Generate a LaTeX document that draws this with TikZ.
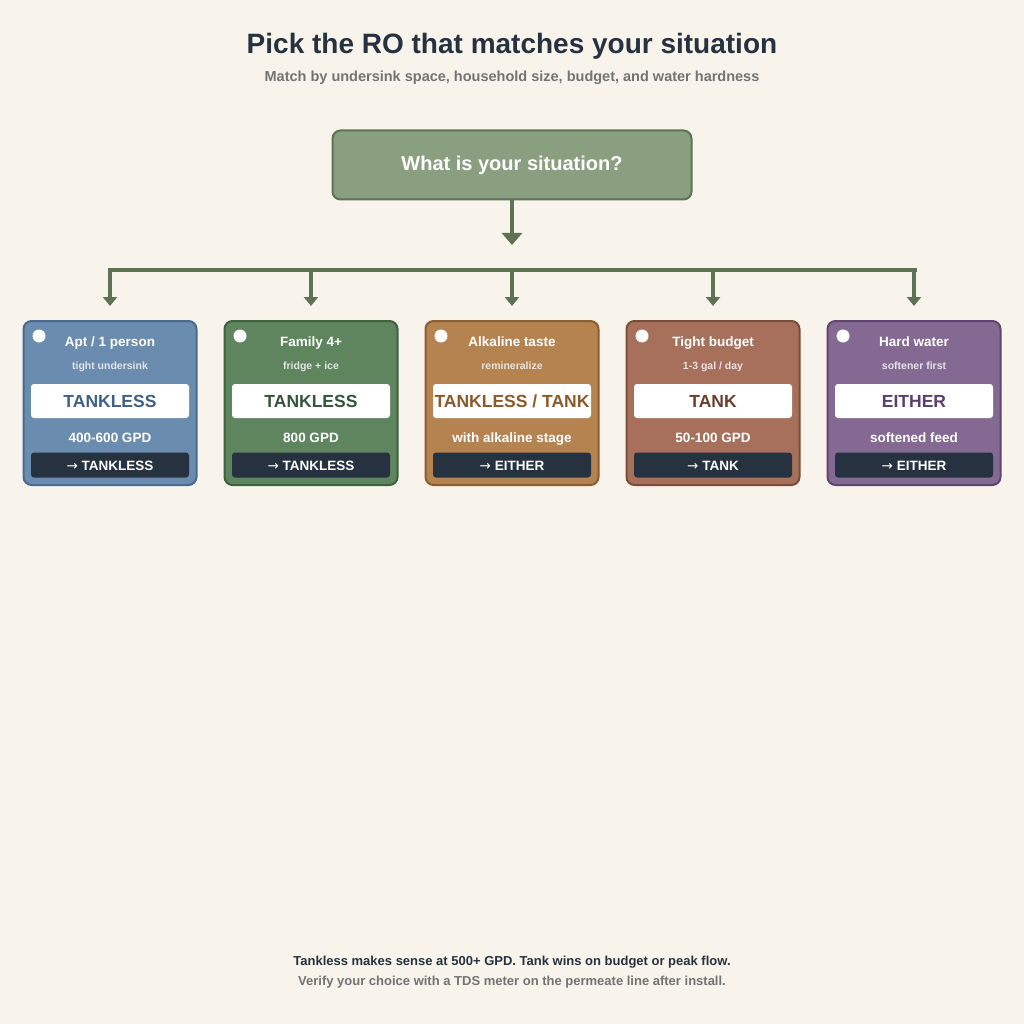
\documentclass[tikz,border=0pt]{standalone}
\usepackage{fontspec}
\setmainfont{Liberation Sans}
\newfontfamily\dv{DejaVu Sans}
\usetikzlibrary{arrows.meta}
\definecolor{bg}{HTML}{F8F4EC}
\definecolor{dk}{HTML}{263240}
\definecolor{ln}{HTML}{5E7354}
\definecolor{topf}{HTML}{8A9E80}
\definecolor{cAf}{HTML}{6A8CAF}\definecolor{cAd}{HTML}{4A6A8F}\definecolor{cAt}{HTML}{3F5F86}
\definecolor{cBf}{HTML}{5E855E}\definecolor{cBd}{HTML}{3E613E}\definecolor{cBt}{HTML}{35553A}
\definecolor{cCf}{HTML}{B5834F}\definecolor{cCd}{HTML}{8A5E30}\definecolor{cCt}{HTML}{8A5A2A}
\definecolor{cDf}{HTML}{A6705A}\definecolor{cDd}{HTML}{7A4D3A}\definecolor{cDt}{HTML}{6B3F2E}
\definecolor{cEf}{HTML}{846A93}\definecolor{cEd}{HTML}{5E4570}\definecolor{cEt}{HTML}{5A3F6E}
\tikzset{
 card/.style={draw=#1d,fill=#1f,line width=2pt,rounded corners=8pt,minimum width=173pt,minimum height=164pt},
 wbox/.style={fill=white,rounded corners=3pt,minimum width=158pt,minimum height=34pt,text=#1t,font=\bfseries\fontsize{17.5}{17.5}\selectfont,inner sep=0pt},
 dbar/.style={fill=dk,rounded corners=3pt,minimum width=158pt,minimum height=25pt,text=white,font=\bfseries\fontsize{13.5}{13.5}\selectfont,text height=10pt,text depth=0pt},
 ttl/.style={text=white,font=\bfseries\fontsize{13.5}{13.5}\selectfont,text height=10pt,text depth=3pt},
 sub/.style={text=white!90!black,font=\bfseries\fontsize{10.5}{10.5}\selectfont,text height=8pt,text depth=2pt},
 conn/.style={draw=ln,line width=4pt},
 arr/.style={draw=ln,line width=4pt,-{Triangle[length=12pt,width=20pt]}},
 sarr/.style={draw=ln,line width=3.5pt,-{Triangle[length=9pt,width=14pt]}},
}
\newcommand{\card}[8]{%
 \node[card=#2] (c#1) at (#3,403) {};
 \fill[white] (#3-71,336) circle (6.5pt);
 \node[ttl] (t#1) at (#3,343) {#4};
 \node[sub] (s#1) at (#3,366) {#5};
 \node[wbox=#2] (w#1) at (#3,401) {#6};
 \node[ttl] (g#1) at (#3,439) {#7};
 \node[dbar] (d#1) at (#3,465) {{\dv\mdseries →} #8};
}
\begin{document}
\begin{tikzpicture}[x=1pt,y=-1pt]
\fill[bg] (0,0) rectangle (1024,1024);
\useasboundingbox (0,0) rectangle (1024,1024);
\node[text=dk,font=\bfseries\fontsize{28}{28}\selectfont] (title) at (512,46) {Pick the RO that matches your situation};
\node[text=black!55,font=\bfseries\fontsize{14.5}{14.5}\selectfont] (subt) at (512,78) {Match by undersink space, household size, budget, and water hardness};
\node[draw=ln,fill=topf,line width=2pt,rounded corners=8pt,minimum width=359pt,minimum height=69pt,text=white,font=\bfseries\fontsize{20}{20}\selectfont] (q) at (512,165) {What is your situation?};
\coordinate (qa) at (512,245);
\draw[arr] (q.south) -- (qa);
\coordinate (bl) at (108,270); \coordinate (br) at (917,270);
\draw[conn] (bl) -- (br);
\card{1}{cA}{110}{Apt / 1 person}{tight undersink}{TANKLESS}{400-600 GPD}{TANKLESS}
\card{2}{cB}{311}{Family 4+}{fridge + ice}{TANKLESS}{800 GPD}{TANKLESS}
\card{3}{cC}{512}{Alkaline taste}{remineralize}{TANKLESS / TANK}{with alkaline stage}{EITHER}
\card{4}{cD}{713}{Tight budget}{1-3 gal / day}{TANK}{50-100 GPD}{TANK}
\card{5}{cE}{914}{Hard water}{softener first}{EITHER}{softened feed}{EITHER}
\foreach \i/\x in {1/110,2/311,3/512,4/713,5/914}{
 \coordinate (b\i) at (\x,270);
 \coordinate (e\i) at (\x,306);
 \draw[sarr] (b\i) -- (e\i);
}
\node[text=dk,font=\bfseries\fontsize{13}{13}\selectfont] (n1) at (512,962) {Tankless makes sense at 500+ GPD. Tank wins on budget or peak flow.};
\node[text=black!55,font=\bfseries\fontsize{13}{13}\selectfont] (n2) at (512,982) {Verify your choice with a TDS meter on the permeate line after install.};
\end{tikzpicture}
\end{document}
